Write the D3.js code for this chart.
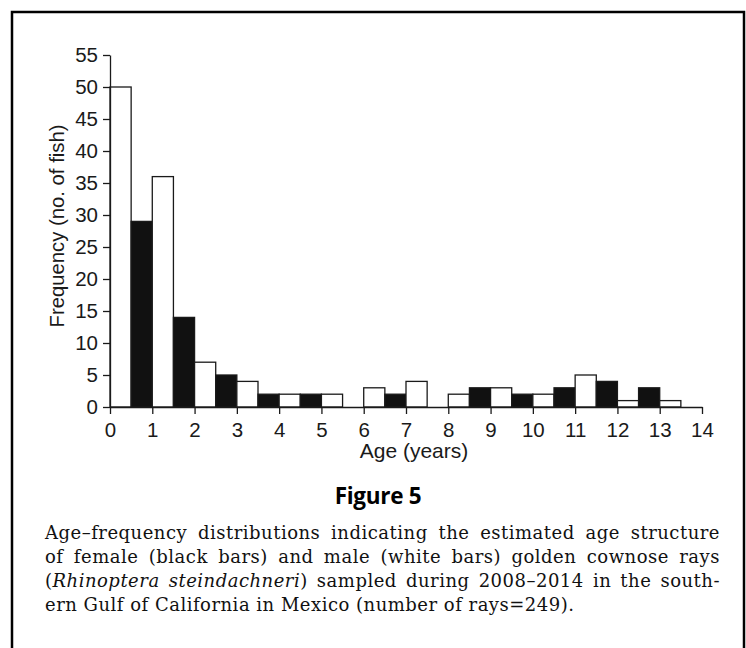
<!DOCTYPE html>
<html>
<head>
<meta charset="utf-8">
<script src="https://cdn.jsdelivr.net/npm/d3@7"></script>
<style>
  body { margin: 0; background: #fff; }
  svg { display: block; }
</style>
</head>
<body>
<script>
// Data
const ages = [0, 1, 2, 3, 4, 5, 6, 7, 8, 9, 10, 11, 12, 13];
const female = [0, 29, 14, 5, 2, 2, 0, 2, 0, 3, 2, 3, 4, 3];   // black bars
const male = [50, 36, 7, 4, 2, 2, 3, 4, 2, 3, 2, 5, 1, 1];     // white bars
const xTicks = d3.range(0, 15);
const yTicks = d3.range(0, 56, 5);

const width = 746, height = 648;
const plot = { left: 110, right: 702, top: 55, bottom: 407 };
const ink = '#1a1a1a';
const sans = 'Arial, "Liberation Sans", Helvetica, sans-serif';

const svg = d3.select('body')
  .append('svg')
  .attr('width', width)
  .attr('height', height);

// frame round the figure (bottom edge is off the page)
svg.append('rect')
  .attr('x', 12).attr('y', 12)
  .attr('width', 732).attr('height', 700)
  .attr('fill', 'none')
  .attr('stroke', '#000')
  .attr('stroke-width', 2.5);

const x = d3.scaleLinear().domain([0, 14]).range([plot.left, plot.right]);
const y = d3.scaleLinear().domain([0, 55]).range([plot.bottom, plot.top]);

// bars: female sits left of the age tick, male right of it
const bars = [];
ages.forEach((a, i) => {
  if (female[i] > 0) bars.push({ x0: a - 0.5, x1: a, v: female[i], fill: '#111' });
  if (male[i] > 0) bars.push({ x0: a, x1: a + 0.5, v: male[i], fill: '#fff' });
});

svg.append('g')
  .selectAll('rect')
  .data(bars)
  .enter()
  .append('rect')
  .attr('x', d => x(d.x0))
  .attr('width', d => x(d.x1) - x(d.x0))
  .attr('y', d => y(d.v))
  .attr('height', d => y(0) - y(d.v))
  .attr('fill', d => d.fill)
  .attr('stroke', ink)
  .attr('stroke-width', 1.3);

// axes
const yaxis = svg.append('g')
  .attr('transform', `translate(${plot.left}, 0)`)
  .call(d3.axisLeft(y).tickValues(yTicks).tickSize(7).tickSizeOuter(0).tickPadding(5));

const xaxis = svg.append('g')
  .attr('transform', `translate(0, ${plot.bottom})`)
  .call(d3.axisBottom(x).tickValues(xTicks).tickSize(7).tickSizeOuter(0).tickPadding(8));

[xaxis, yaxis].forEach(g => {
  g.selectAll('path, line').attr('stroke', ink).attr('stroke-width', 1.3);
  g.selectAll('text')
    .attr('fill', ink)
    .style('font-family', sans)
    .style('font-size', '20.5px');
});

// axis titles
svg.append('text')
  .text('Age (years)')
  .attr('x', 414)
  .attr('y', 458)
  .attr('text-anchor', 'middle')
  .attr('fill', ink)
  .style('font-family', sans)
  .style('font-size', '21px');

svg.append('text')
  .text('Frequency (no. of fish)')
  .attr('transform', 'translate(64, 226) rotate(-90)')
  .attr('text-anchor', 'middle')
  .attr('fill', ink)
  .style('font-family', sans)
  .style('font-size', '20.3px');

// figure label
svg.append('text')
  .text('Figure 5')
  .attr('x', 378)
  .attr('y', 504)
  .attr('text-anchor', 'middle')
  .attr('fill', '#000')
  .style('font-family', '"Open Sans", sans-serif')
  .style('font-weight', 700)
  .style('font-size', '22.5px')
  .style('letter-spacing', '-0.3px');

// caption, justified lines (word spacing stretched to the column width)
const captionLines = [
  [{ t: 'Age\u2013frequency distributions indicating the estimated age structure' }],
  [{ t: 'of female (black bars) and male (white bars) golden cownose rays' }],
  [{ t: '(' }, { t: 'Rhinoptera steindachneri', i: true }, { t: ') sampled during 2008\u20132014 in the south-' }],
  [{ t: 'ern Gulf of California in Mexico (number of rays=249).' }]
];
const colWidth = 675;

captionLines.forEach((parts, k) => {
  const line = svg.append('text')
    .attr('x', 45)
    .attr('y', 539 + k * 24)
    .attr('fill', '#111')
    .style('font-family', '"DejaVu Serif", "Liberation Serif", serif')
    .style('font-size', '18px')
    .style('letter-spacing', '0.5px');
  parts.forEach(p => {
    line.append('tspan')
      .text(p.t)
      .style('font-style', p.i ? 'italic' : 'normal');
  });
  if (k < captionLines.length - 1) {
    const natural = line.node().getComputedTextLength();
    const spaces = parts.map(p => p.t).join('').split(' ').length - 1;
    line.style('word-spacing', `${(colWidth - natural) / spaces}px`);
  }
});
</script>
</body>
</html>
